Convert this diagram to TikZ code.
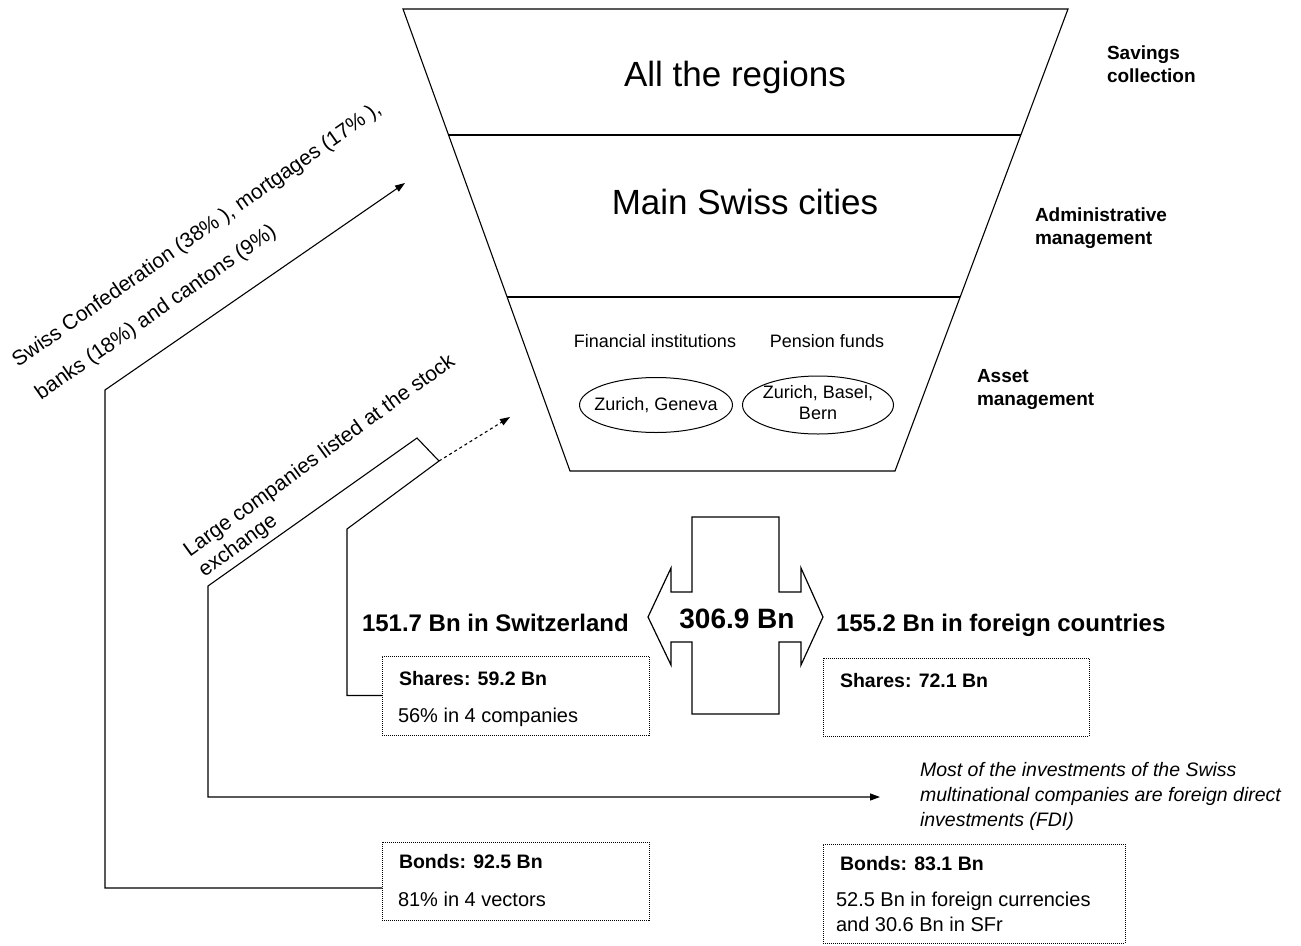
\documentclass[tikz,border=0pt]{standalone}
\usepackage{fontspec}
\setmainfont{Liberation Sans}
\usetikzlibrary{arrows.meta,calc}
\begin{document}
\begin{tikzpicture}[x=1pt,y=-1pt,
  every node/.style={inner sep=0pt,outer sep=0pt},
  edge/.style={draw=black,line width=1.1pt},
  tip/.style={-{Triangle[length=10pt,width=7pt]}},
  dashline/.style={dash pattern=on 3pt off 3pt},
  dotbox/.style={draw=black,line width=0.9pt,dash pattern=on 1pt off 1pt,
    rectangle,anchor=north west},
  huge/.style={font=\fontsize{35}{40}\selectfont},
  head/.style={font=\bfseries\fontsize{24}{28}\selectfont},
  total/.style={font=\bfseries\fontsize{28}{32}\selectfont},
  stage/.style={font=\bfseries\fontsize{19}{23}\selectfont,align=left,anchor=north west},
  small/.style={font=\fontsize{18}{21}\selectfont},
  boxhead/.style={font=\bfseries\fontsize{19.5}{24}\selectfont,anchor=base west},
  boxtext/.style={font=\fontsize{20}{25}\selectfont,anchor=base west},
  note/.style={font=\itshape\fontsize{19.5}{25}\selectfont,align=left,anchor=north west},
  oval/.style={draw=black,line width=1pt}
]
\useasboundingbox (0,0) rectangle (1301,945);

% funnel with its three levels
\coordinate (ftl) at (403,9);
\coordinate (ftr) at (1068,9);
\coordinate (fbl) at (570,471);
\coordinate (fbr) at (895,471);
\draw[edge] (ftl) -- (ftr) -- (fbr) -- (fbl) -- cycle;
\draw[edge] ($(ftl)!0.2727!(fbl)$) -- ($(ftr)!0.2727!(fbr)$);
\draw[edge] ($(ftl)!0.6234!(fbl)$) -- ($(ftr)!0.6234!(fbr)$);

\node[huge,anchor=base] (lvl1) at (735,86) {All the regions};
\node[huge,anchor=base] (lvl2) at (745,214) {Main Swiss cities};
\node[small,anchor=base] (fin) at (655,347) {Financial institutions};
\node[small,anchor=base] (pen) at (827,347) {Pension funds};
\node[small] (e1) at (656,405) {Zurich, Geneva};
\node[small,align=center] (e2) at (818,403) {Zurich, Basel,\\Bern};
\draw[oval] (e1.center) ellipse [x radius=76.5, y radius=27.5];
\draw[oval] (818,405) ellipse [x radius=75.5, y radius=29];

% stage labels
\node[stage] (st1) at (1107,46) {Savings\\collection};
\node[stage] (st2) at (1035,208) {Administrative\\management};
\node[stage] (st3) at (977,369) {Asset\\management};

% double-headed cross arrow
\draw[edge,line width=1.2pt]
  (692,517) -- (779,517) -- (779,592) -- (801,592) -- (801,568) -- (823,617)
  -- (801,665) -- (801,642) -- (779,642) -- (779,714) -- (692,714) -- (692,642)
  -- (671,642) -- (671,665) -- (648,617) -- (671,568) -- (671,592) -- (692,592) -- cycle;
\node[total,anchor=base] (tot) at (737,628) {306.9 Bn};
\node[head,anchor=base west] (ch) at (362,631) {151.7 Bn in Switzerland};
\node[head,anchor=base west] (abr) at (836,631) {155.2 Bn in foreign countries};

% portfolio boxes
\node[dotbox,minimum width=267pt,minimum height=79pt] (s1) at (382,656) {};
\node[boxhead] at ($(s1.north west)+(17,29)$) {Shares: 59.2 Bn};
\node[boxtext] at ($(s1.north west)+(16,66)$) {56\% in 4 companies};

\node[dotbox,minimum width=266pt,minimum height=78pt] (s2) at (823,658) {};
\node[boxhead] at ($(s2.north west)+(17,29)$) {Shares: 72.1 Bn};

\node[dotbox,minimum width=267pt,minimum height=78pt] (b1) at (382,842) {};
\node[boxhead] at ($(b1.north west)+(17,26)$) {Bonds: 92.5 Bn};
\node[boxtext] at ($(b1.north west)+(16,64)$) {81\% in 4 vectors};

\node[dotbox,minimum width=302pt,minimum height=99pt] (b2) at (823,844) {};
\node[boxhead] at ($(b2.north west)+(17,26)$) {Bonds: 83.1 Bn};
\node[font=\fontsize{20}{25}\selectfont,align=left,anchor=north west]
  at ($(b2.north west)+(13,48)$) {52.5 Bn in foreign currencies\\and 30.6 Bn in SFr};

% note on direct investments
\node[note] (fdi) at (920,762) {Most of the investments of the Swiss\\multinational companies are foreign direct\\investments (FDI)};

% slanted captions along the connectors
\node[font=\fontsize{21}{40}\selectfont,align=left,anchor=north west,rotate=35]
  (cap1) at (9.5,355) {Swiss Confederation (38\% ), mortgages (17\% ),\\banks (18\%) and cantons (9\%)};
\node[font=\fontsize{21}{25}\selectfont,align=left,anchor=north west,rotate=36]
  (cap2) at (181,545) {Large companies listed at the stock\\exchange};

% connectors
\coordinate (ybond) at (0,888);
\coordinate (k1) at (105,390);
\coordinate (a1) at (405,183);
\draw[edge,tip] (b1.west |- ybond) -| (k1) -- (a1);

\coordinate (k2) at (347,529);
\coordinate (j) at (439,461);
\coordinate (a2) at (510,417);
\draw[edge] (s1.west) -| (k2) -- (j);
\draw[edge,dashline,tip] (j) -- (a2);

\coordinate (h) at (417,438);
\coordinate (k3) at (208,586);
\coordinate (a3) at (880,797);
\draw[edge,tip] (j) -- (h) -- (k3) |- (a3);
\end{tikzpicture}
\end{document}
